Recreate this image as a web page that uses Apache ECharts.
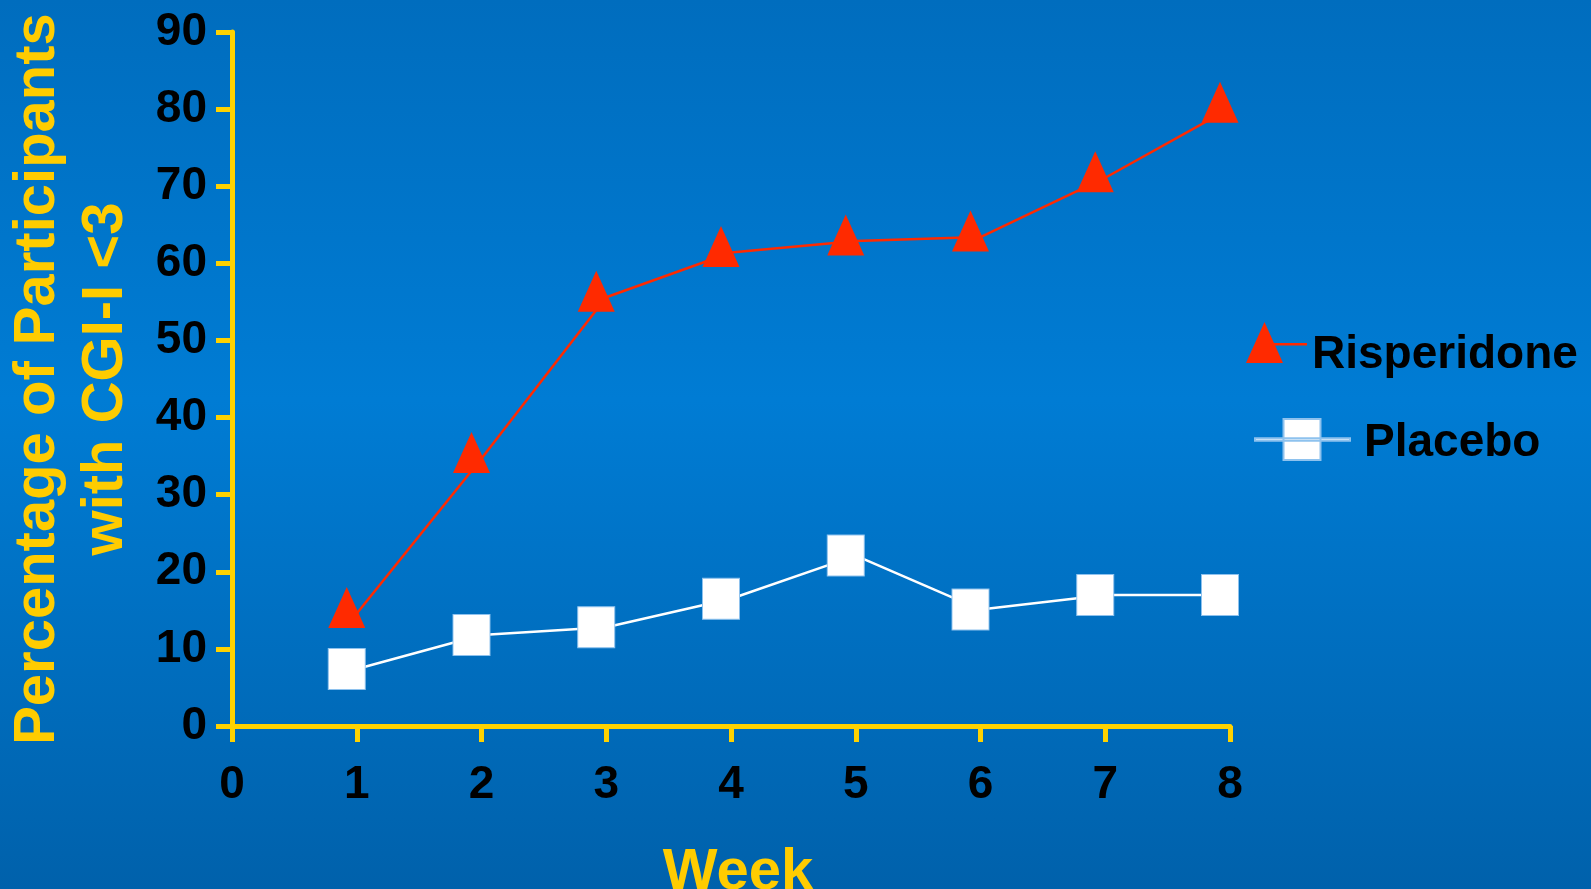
<!DOCTYPE html>
<html>
<head>
<meta charset="utf-8">
<script src="https://cdn.jsdelivr.net/npm/echarts@6/dist/echarts.min.js"></script>
<style>
  html, body { margin: 0; padding: 0; }
  #chart { width: 1591px; height: 889px; }
</style>
</head>
<body>
<div id="chart"></div>
<script>
// ---- data ----
const weeks = [1, 2, 3, 4, 5, 6, 7, 8];
const risperidone = [14.6, 34.7, 55.6, 61.4, 62.9, 63.4, 71.1, 80.1];
const placebo = [7.4, 11.8, 12.8, 16.5, 22.1, 15.1, 17.0, 17.0];
const xTickLabels = ['0', '1', '2', '3', '4', '5', '6', '7', '8'];
const yTickLabels = ['0', '10', '20', '30', '40', '50', '60', '70', '80', '90'];
const seriesNames = ['Risperidone', 'Placebo'];
const xAxisTitle = 'Week';
const yAxisTitle = 'Percentage of Participants\nwith CGI-I <3';

const FONT = '"Liberation Sans", Arial, sans-serif';
const AXIS_YELLOW = '#FFD200';
const TITLE_YELLOW = '#FFCC00';
const RED = '#FF2A00';

const chart = echarts.init(document.getElementById('chart'), null, { renderer: 'canvas' });

const option = {
  animation: false,
  backgroundColor: {
    type: 'linear', x: 0, y: 0, x2: 0, y2: 1,
    colorStops: [
      { offset: 0, color: '#006DBE' },
      { offset: 0.45, color: '#007CD4' },
      { offset: 1, color: '#0061AB' }
    ]
  },
  textStyle: { fontFamily: FONT },
  grid: { left: 232, right: 361, top: 32, bottom: 163, containLabel: false, outerBoundsMode: 'none' },
  legend: [
    {
      data: [{
        name: seriesNames[0],
        // triangle + short line; trailing lone point extends the icon box downward
        icon: 'path://M0 41 L18.5 0 L37 41 Z M18.5 21 H61 V23.5 H18.5 Z M0 67'
      }],
      left: 1246, top: 322, padding: 0,
      itemWidth: 61, itemHeight: 67,
      textStyle: { color: '#000', fontSize: 46, fontWeight: 'bold', fontFamily: FONT }
    },
    {
      data: [{
        name: seriesNames[1],
        icon: 'path://M0 19.3 H95 V21.8 H0 Z M28.5 0 H65.5 V41 H28.5 Z M0 48.4'
      }],
      left: 1254, top: 418, padding: 0,
      itemWidth: 95, itemHeight: 48.4,
      textStyle: { color: '#000', fontSize: 46, fontWeight: 'bold', fontFamily: FONT, padding: [0, 0, 0, 9] }
    }
  ],
  xAxis: {
    type: 'value', min: 0, max: 8, interval: 1,
    name: xAxisTitle, nameLocation: 'middle', nameGap: 110,
    nameTextStyle: { color: TITLE_YELLOW, fontSize: 58, fontWeight: 'bold', fontFamily: FONT, padding: [8, 0, 0, 14] },
    axisLine: { show: true, onZero: false, lineStyle: { color: AXIS_YELLOW, width: 5 } },
    axisTick: { show: true, length: 16, lineStyle: { color: AXIS_YELLOW, width: 5 } },
    axisLabel: {
      color: '#000', fontSize: 46, fontWeight: 'bold', fontFamily: FONT, margin: 36,
      formatter: v => xTickLabels[Math.round(v)]
    },
    splitLine: { show: false }
  },
  yAxis: {
    type: 'value', min: 0, max: 90, interval: 10,
    name: yAxisTitle, nameLocation: 'middle', nameGap: 92, nameRotate: 90,
    nameTextStyle: { color: TITLE_YELLOW, fontSize: 58, fontWeight: 'bold', fontFamily: FONT, lineHeight: 68 },
    axisLine: { show: true, onZero: false, lineStyle: { color: AXIS_YELLOW, width: 5 } },
    axisTick: { show: true, length: 16, lineStyle: { color: AXIS_YELLOW, width: 5 } },
    axisLabel: {
      color: '#000', fontSize: 46, fontWeight: 'bold', fontFamily: FONT, margin: 25,
      padding: [12, 0, 0, 0],
      formatter: v => yTickLabels[Math.round(v / 10)]
    },
    splitLine: { show: false }
  },
  series: [
    {
      name: seriesNames[0], type: 'line',
      data: weeks.map((w, i) => [w, risperidone[i]]),
      symbol: 'triangle', symbolSize: [37, 41], symbolOffset: [-10, -6],
      showSymbol: true, showAllSymbol: true,
      itemStyle: { color: RED },
      lineStyle: { color: RED, width: 2.5 },
      z: 3
    },
    {
      name: seriesNames[1], type: 'line',
      data: weeks.map((w, i) => [w, placebo[i]]),
      symbol: 'rect', symbolSize: [37, 41], symbolOffset: [-10, 0],
      showSymbol: true, showAllSymbol: true,
      itemStyle: { color: '#FFFFFF', borderColor: '#8EC2EE', borderWidth: 1 },
      lineStyle: { color: '#FFFFFF', width: 2.5 },
      z: 3
    }
  ]
};
chart.setOption(option);
</script>
</body>
</html>
